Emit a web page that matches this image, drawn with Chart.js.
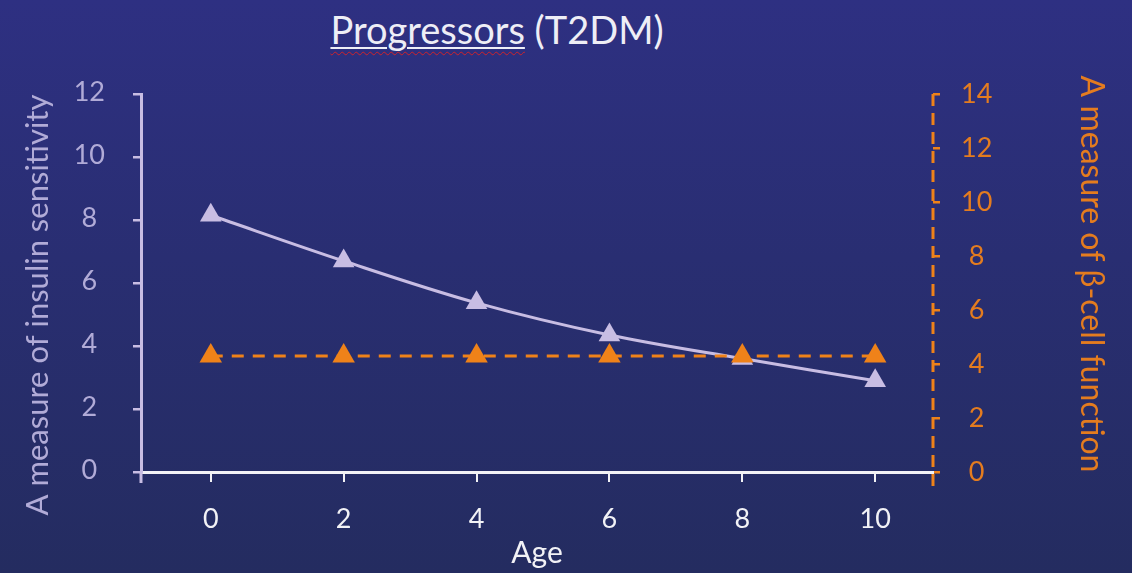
<!DOCTYPE html>
<html>
<head>
<meta charset="utf-8">
<script src="https://cdn.jsdelivr.net/npm/chart.js@4/dist/chart.umd.min.js"></script>
<style>
  html, body { margin: 0; padding: 0; }
  body {
    width: 1132px; height: 573px; overflow: hidden; position: relative;
    background: linear-gradient(180deg, #2e3082 0%, #292e72 45%, #242c60 100%);
    font-family: Lato, "Open Sans", sans-serif;
  }
  #heading {
    position: absolute; left: 0; width: 994px; top: 6px;
    text-align: center; color: #eeeef6; font-size: 38px; line-height: 46px;
    margin: 0; font-weight: normal;
  }
  #heading .spell {
    text-decoration: underline wavy #d0222a 1px;
    text-underline-offset: 7px;
  }
  #heading .spell span {
    text-decoration: underline #eeeef6 1.5px;
    text-underline-offset: 3px;
  }
  canvas { position: absolute; left: 0; top: 0; }
</style>
</head>
<body>
<h1 id="heading"><span class="spell"><span>Progressors</span></span> (T2DM)</h1>
<canvas id="chart" width="1132" height="573"></canvas>
<script>
// Ages at which both measures were taken
const ages = [0, 2, 4, 6, 8, 10];
// Insulin sensitivity (left axis)
const insulinSensitivity = [8.15, 6.7, 5.37, 4.35, 3.6, 2.9];
// Beta-cell function (right axis)
const betaCellFunction = [4.3, 4.3, 4.3, 4.3, 4.3, 4.3];
// Tick labels on the age axis
const ageTicks = [0, 2, 4, 6, 8, 10];
// Axis titles
const leftTitle = 'A measure of insulin sensitivity';
const rightTitle = 'A measure of β-cell function';

const LAVENDER = '#c8bde3';
const LAVENDER_TEXT = '#b1abd7';
const ORANGE = '#ef8219';
const ORANGE_TEXT = '#e47c1f';
const WHITE = '#f2f2f6';
const FONT = 'Lato, "Open Sans", sans-serif';

// dashed right-hand axis line, axis stubs below the age axis, and rotated axis titles
const axisDecor = {
  id: 'axisDecor',
  afterDraw(chart) {
    const { ctx, chartArea } = chart;
    const yL = chart.scales.y, yR = chart.scales.y2;
    ctx.save();
    ctx.lineWidth = 3;
    ctx.strokeStyle = LAVENDER;
    ctx.beginPath();
    ctx.moveTo(yL.right, chartArea.bottom);
    ctx.lineTo(yL.right, chartArea.bottom + 11);
    ctx.stroke();

    ctx.strokeStyle = ORANGE;
    ctx.setLineDash([12, 7]);
    ctx.beginPath();
    ctx.moveTo(yR.left, chartArea.top);
    ctx.lineTo(yR.left, chartArea.bottom + 16);
    ctx.stroke();
    ctx.setLineDash([]);

    const mid = (chartArea.top + chartArea.bottom) / 2;
    ctx.textAlign = 'center';
    ctx.textBaseline = 'middle';

    ctx.save();
    ctx.translate(yL.left + 28, mid + 22);
    ctx.rotate(-Math.PI / 2);
    ctx.fillStyle = LAVENDER_TEXT;
    ctx.font = '31px ' + FONT;
    ctx.fillText(leftTitle, 0, 0);
    ctx.restore();

    ctx.save();
    ctx.translate(yR.right - 31, mid - 9);
    ctx.rotate(Math.PI / 2);
    ctx.fillStyle = ORANGE_TEXT;
    ctx.font = '32px ' + FONT;
    ctx.fillText(rightTitle, 0, 0);
    ctx.restore();

    ctx.restore();
  }
};

new Chart(document.getElementById('chart'), {
  type: 'line',
  data: {
    datasets: [
      {
        label: 'β-cell function',
        data: ages.map((a, i) => ({ x: a, y: betaCellFunction[i] })),
        yAxisID: 'y2',
        borderColor: ORANGE,
        backgroundColor: ORANGE,
        borderWidth: 3,
        borderDash: [12, 9],
        pointStyle: 'triangle',
        pointRadius: 13,
        pointBorderWidth: 0,
        tension: 0,
        order: 0
      },
      {
        label: 'Insulin sensitivity',
        data: ages.map((a, i) => ({ x: a, y: insulinSensitivity[i] })),
        yAxisID: 'y',
        borderColor: LAVENDER,
        backgroundColor: LAVENDER,
        borderWidth: 3,
        pointStyle: 'triangle',
        pointRadius: 12.5,
        pointBorderWidth: 0,
        tension: 0.35,
        order: 1
      }
    ]
  },
  options: {
    responsive: false,
    animation: false,
    layout: { padding: { left: 10, right: 10, top: 94, bottom: 0 } },
    plugins: { legend: { display: false }, tooltip: { enabled: false }, title: { display: false } },
    scales: {
      x: {
        type: 'linear',
        position: 'bottom',
        min: -1.05,
        max: 10.87,
        afterBuildTicks(scale) { scale.ticks = ageTicks.map(v => ({ value: v })); },
        afterFit(scale) { scale.height = 101; },
        grid: { drawOnChartArea: false, drawTicks: true, tickLength: 10, color: WHITE, lineWidth: 2 },
        border: { display: true, color: WHITE, width: 3 },
        ticks: { color: WHITE, font: { family: FONT, size: 27 }, padding: 21, maxRotation: 0 },
        title: { display: true, text: 'Age', color: WHITE, font: { family: FONT, size: 30 }, padding: { top: 0, bottom: 2 } }
      },
      y: {
        position: 'left',
        min: 0,
        max: 12,
        ticks: { stepSize: 2, color: LAVENDER_TEXT, font: { family: FONT, size: 27 }, padding: 28, crossAlign: 'center', labelOffset: -2 },
        afterFit(scale) { scale.width = 131; },
        grid: { drawOnChartArea: false, drawTicks: true, tickLength: 8, color: LAVENDER, lineWidth: 2.5 },
        border: { display: true, color: LAVENDER, width: 3 }
      },
      y2: {
        position: 'right',
        min: 0,
        max: 14,
        ticks: { stepSize: 2, color: ORANGE_TEXT, font: { family: FONT, size: 27 }, padding: 21, crossAlign: 'center' },
        afterFit(scale) { scale.width = 189; },
        grid: { drawOnChartArea: false, drawTicks: true, tickLength: 7, color: ORANGE, lineWidth: 2.5 },
        border: { display: false }
      }
    }
  },
  plugins: [axisDecor]
});
</script>
</body>
</html>
